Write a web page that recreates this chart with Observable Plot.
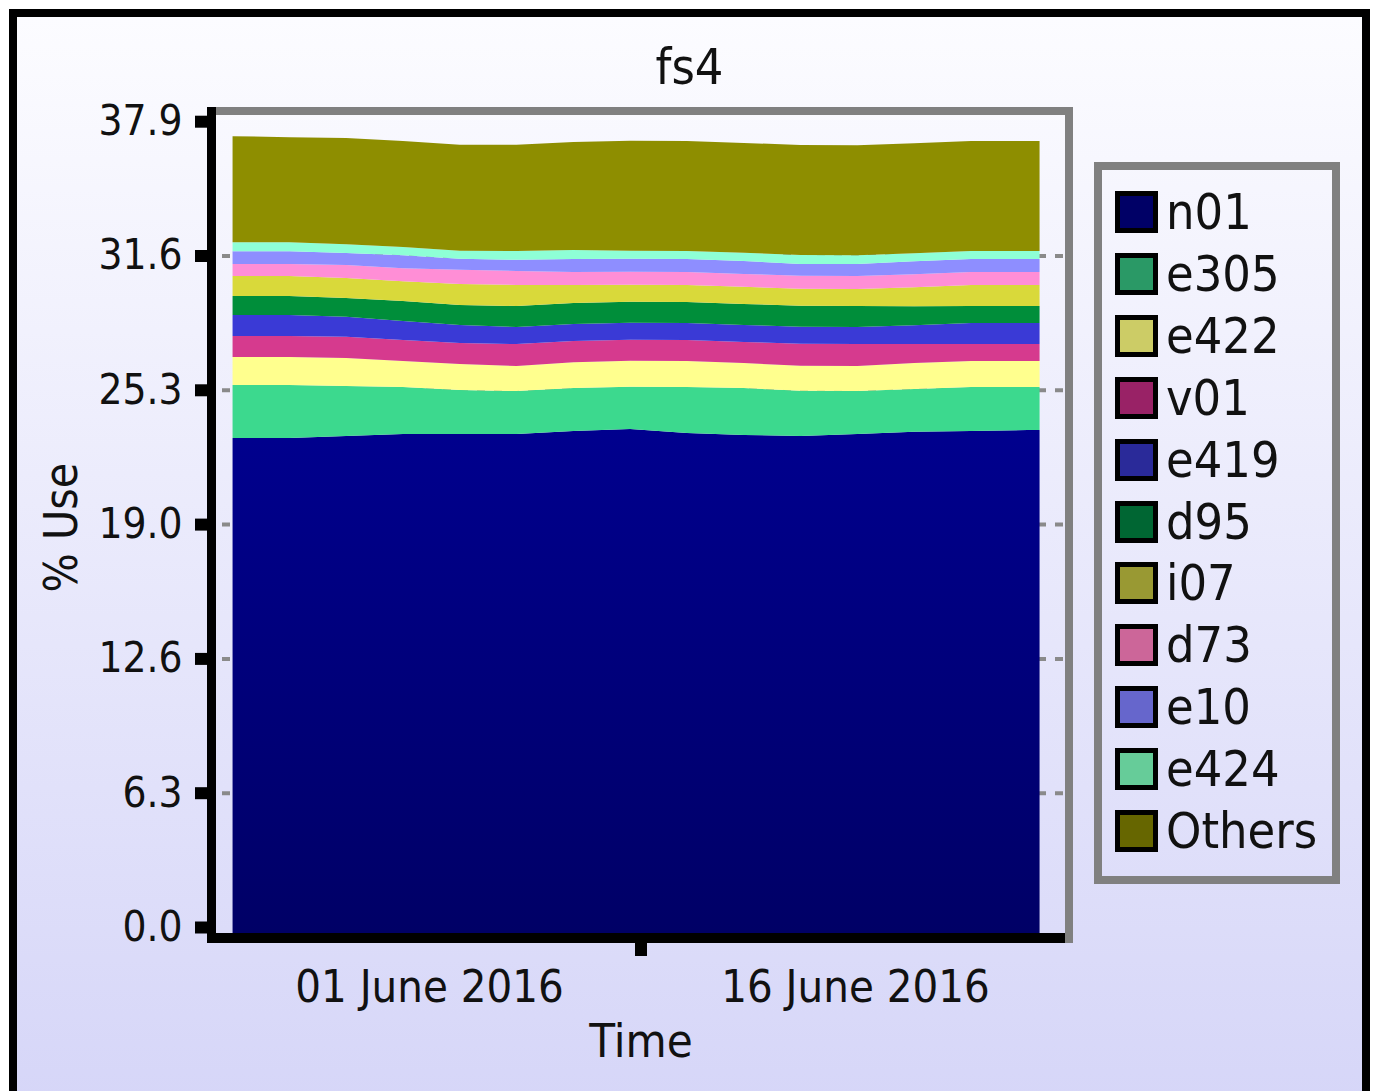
<!DOCTYPE html>
<html>
<head>
<meta charset="utf-8">
<script src="https://cdn.jsdelivr.net/npm/d3@7"></script>
<script src="https://cdn.jsdelivr.net/npm/@observablehq/plot@0.6"></script>
<style>
  html, body { margin: 0; padding: 0; background: #fff; }
  body { width: 1375px; height: 1091px; position: relative; overflow: hidden;
         font-family: "DejaVu Sans Condensed", "DejaVu Sans", sans-serif; font-stretch: condensed; }
  #outer { position: absolute; left: 9px; top: 9px; width: 1361px; height: 1100px; box-sizing: border-box;
           border: 8px solid #000; background: linear-gradient(#fcfcff 0%, #d6d6f8 100%); }
  #title { position: absolute; left: 9px; width: 1361px; top: 42px; text-align: center;
           font-size: 50px; line-height: 50px; color: #111; }
  #chart { position: absolute; left: 0; top: 0; }
  .ln { position: absolute; }
  #legend { position: absolute; left: 1094px; top: 162px; width: 246px; height: 722px; box-sizing: border-box;
            border: 8px solid #808080; }
  .row { position: absolute; left: 13px; height: 42px; display: flex; align-items: center; }
  .sw { width: 43px; height: 42px; box-sizing: border-box; border: 5px solid #000; }
  .lb { margin-left: 8px; font-size: 50px; line-height: 42px; color: #111; }
</style>
</head>
<body>
<div id="outer"></div>
<div id="title">fs4</div>
<div id="chart"></div>
<div class="ln" style="left:216px;top:107px;width:857px;height:8px;background:#808080"></div>
<div class="ln" style="left:1065px;top:107px;width:8px;height:836px;background:#808080"></div>
<div class="ln" style="left:207px;top:107px;width:9px;height:836px;background:#000"></div>
<div class="ln" style="left:207px;top:933px;width:858px;height:10px;background:#000"></div>
<div id="legend"></div>
<script>
const seriesNames = ["n01", "e305", "e422", "v01", "e419", "d95", "i07", "d73", "e10", "e424", "Others"];
const areaColors = ["url(#navyGrad)", "#3cd98e", "#ffff8e", "#d63a8e", "#3a3ad6", "#008e3a", "#d9d93a", "#ff8ed6", "#8e8eff", "#8effd6", "#8e8e00"];
const legendColors = ["#000066", "#2a9966", "#cccc66", "#992266", "#2a2a99", "#006633", "#999933", "#cc6699", "#6666cc", "#66cc99", "#666600"];

const dates = ["2016-05-25T02:00", "2016-05-27T02:00", "2016-05-29T02:00", "2016-05-31T02:00",
  "2016-06-02T02:00", "2016-06-04T02:00", "2016-06-06T02:00", "2016-06-08T02:00",
  "2016-06-10T02:00", "2016-06-12T02:00", "2016-06-14T02:00", "2016-06-16T02:00",
  "2016-06-18T02:00", "2016-06-20T02:00", "2016-06-22T02:00", "2016-06-22T12:00"];

const n01    = [23.28,23.28,23.38,23.47,23.47,23.47,23.61,23.71,23.52,23.42,23.38,23.47,23.57,23.61,23.66,23.66];
const e305   = [2.49,2.49,2.35,2.21,2.07,2.02,2.02,1.98,2.16,2.21,2.12,2.02,2.02,2.07,2.02,2.02];
const e422   = [1.32,1.32,1.32,1.22,1.22,1.18,1.22,1.22,1.22,1.18,1.18,1.18,1.22,1.22,1.22,1.22];
const v01    = [0.99,0.99,0.99,0.99,0.99,1.03,0.99,0.99,0.99,0.99,1.03,1.03,0.89,0.80,0.80,0.80];
const e419   = [0.99,0.99,0.94,0.89,0.85,0.80,0.80,0.80,0.80,0.80,0.80,0.80,0.89,0.99,0.99,0.99];
const d95    = [0.89,0.89,0.89,0.94,0.94,0.99,0.99,0.99,0.99,0.99,0.99,0.99,0.89,0.80,0.80,0.80];
const i07    = [0.94,0.94,0.94,0.94,0.99,0.99,0.85,0.80,0.80,0.80,0.80,0.80,0.89,0.99,0.99,0.99];
const d73    = [0.56,0.56,0.61,0.61,0.66,0.66,0.61,0.61,0.61,0.61,0.61,0.61,0.61,0.61,0.61,0.61];
const e10    = [0.61,0.61,0.56,0.61,0.52,0.52,0.61,0.61,0.61,0.61,0.56,0.56,0.61,0.61,0.61,0.61];
const e424   = [0.42,0.42,0.42,0.38,0.38,0.42,0.42,0.38,0.38,0.38,0.42,0.42,0.38,0.38,0.38,0.38];
const others = [4.99,4.94,4.99,4.99,4.99,4.99,5.08,5.17,5.17,5.17,5.17,5.17,5.17,5.17,5.17,5.17];
const seriesValues = [n01, e305, e422, v01, e419, d95, i07, d73, e10, e424, others];

const yTicks = [0, 6.317, 12.633, 18.95, 25.267, 31.583, 37.9];
const yTickLabels = ["0.0", "6.3", "12.6", "19.0", "25.3", "31.6", "37.9"];
const gridTicks = yTicks.slice(1, 6);
const xLabelDates = ["2016-06-01", "2016-06-16"];
const xDomain = ["2016-05-24T12:00", "2016-06-23T09:30"];

const toDate = s => new Date(s + (s.length > 10 ? ":00Z" : "T00:00:00Z"));
const data = seriesNames.flatMap((s, i) => dates.map((d, j) => ({date: toDate(d), series: s, value: seriesValues[i][j]})));
const domain = xDomain.map(toDate);
const midTick = new Date((+domain[0] + +domain[1]) / 2);

const defs = () => {
  const d = d3.create("svg:defs");
  const g = d.append("linearGradient").attr("id", "navyGrad").attr("x1", 0).attr("y1", 0).attr("x2", 0).attr("y2", 1);
  g.append("stop").attr("offset", "0%").attr("stop-color", "#00008e");
  g.append("stop").attr("offset", "100%").attr("stop-color", "#000066");
  return d.node();
};

const fmt = d3.utcFormat("%d %B %Y");

const chart = Plot.plot({
  width: 1375, height: 1091,
  marginLeft: 216, marginRight: 310, marginTop: 127.2, marginBottom: 158,
  style: {background: "transparent", fontFamily: "'DejaVu Sans Condensed', 'DejaVu Sans', sans-serif", color: "#111"},
  x: {type: "utc", domain, label: null},
  y: {domain: [0, 37.9], label: null},
  color: {domain: seriesNames, range: areaColors},
  marks: [
    defs,
    Plot.ruleY(gridTicks, {stroke: "#8a8a8a", strokeWidth: 4, strokeDasharray: "8,9", strokeDashoffset: 11, dy: -6}),
    Plot.areaY(data, {x: "date", y: "value", fill: "series", curve: "linear"}),
    Plot.axisY({ticks: yTicks, tickSize: 21, strokeWidth: 12, stroke: "#000", tickPadding: 13, dy: -6,
      tickFormat: d => yTickLabels[yTicks.indexOf(d)], fontSize: 42, fill: "#111", label: null}),
    Plot.axisX({ticks: xLabelDates.map(toDate), tickSize: 0, tickPadding: 37, tickFormat: fmt, fontSize: 45, fill: "#111", label: null}),
    Plot.axisX({ticks: [midTick], tickSize: 23, strokeWidth: 12, stroke: "#000", tickFormat: () => "", label: null}),
    Plot.text(["% Use"], {text: d => d, frameAnchor: "left", dx: -154, dy: -3, rotate: -90, textAnchor: "middle", lineAnchor: "middle", fontSize: 46, fill: "#111"}),
    Plot.text(["Time"], {text: d => d, frameAnchor: "bottom", dy: 108, textAnchor: "middle", lineAnchor: "middle", fontSize: 47, fill: "#111"})
  ]
});
document.getElementById("chart").appendChild(chart);

const legend = document.getElementById("legend");
seriesNames.forEach((s, i) => {
  const row = document.createElement("div");
  row.className = "row";
  row.style.top = (21 + i * 61.9) + "px";
  row.innerHTML = `<div class="sw" style="background:${legendColors[i]}"></div><span class="lb">${s}</span>`;
  legend.appendChild(row);
});
</script>
</body>
</html>
